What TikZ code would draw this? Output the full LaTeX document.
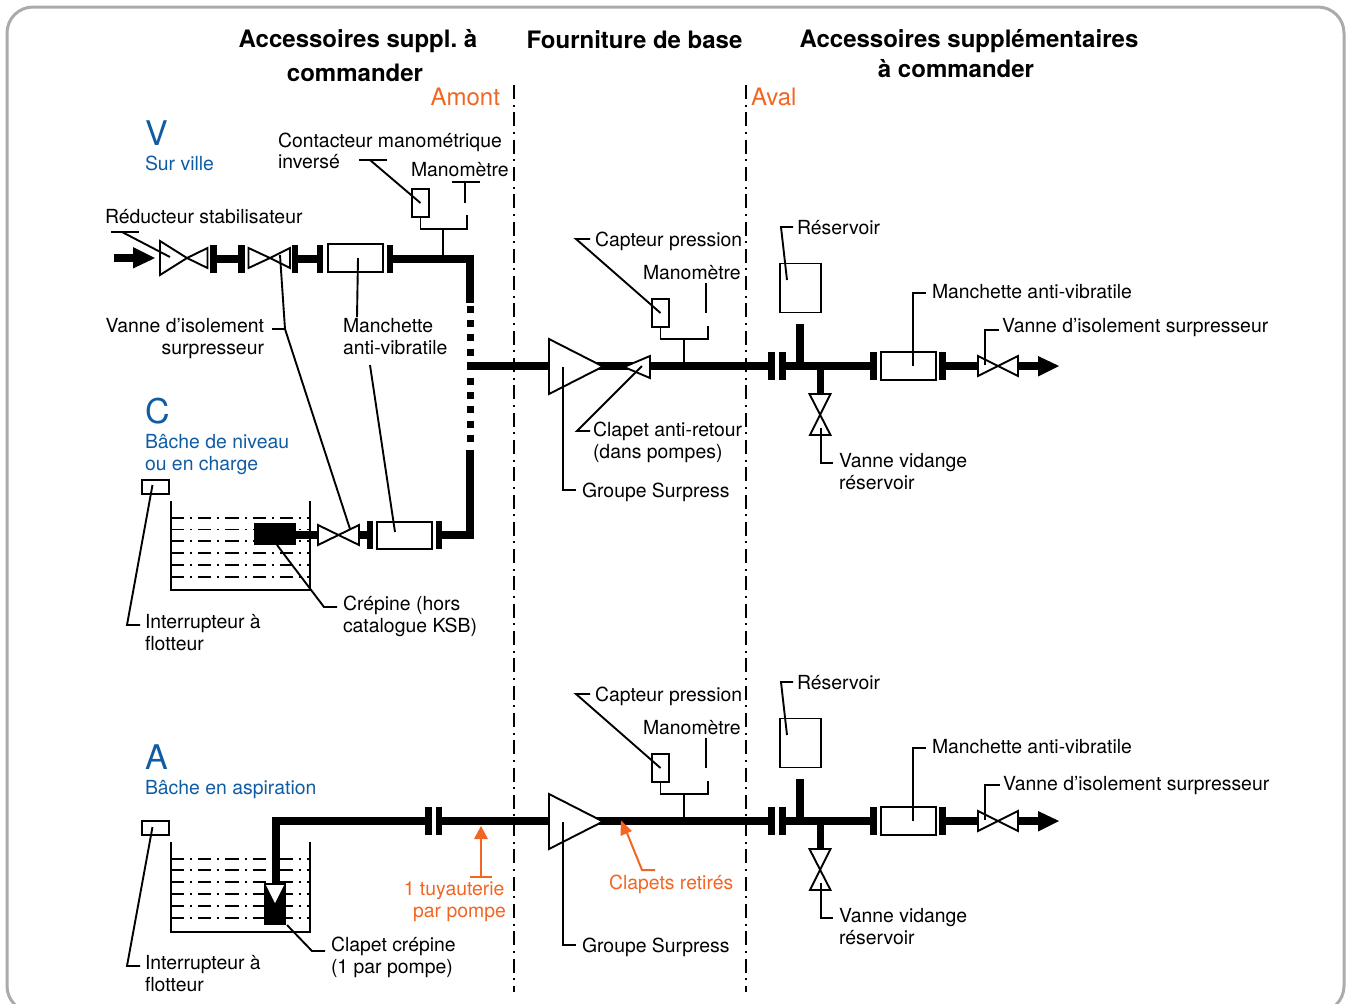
\documentclass[tikz,border=0pt]{standalone}
\usepackage{fontspec}
\setmainfont{TeX Gyre Heros}
\frenchspacing
\definecolor{kblue}{HTML}{0F5CA3}
\definecolor{korange}{HTML}{F26522}
\definecolor{kframe}{HTML}{A9ABAE}
\tikzset{
  every node/.style={inner sep=0pt,outer sep=0pt},
  pipe/.style={line width=3.7pt},
  leader/.style={line width=0.95pt,line join=miter},
  thinpipe/.style={line width=0.95pt},
  shape line/.style={line width=0.95pt,draw=black,fill=white,line join=miter},
  flangebox/.style={fill=black,minimum width=3.4pt,minimum height=13.6pt},
  sleeve/.style={shape line,draw,minimum width=27.5pt,minimum height=13.6pt},
  smallbox/.style={shape line,draw},
  label/.style={anchor=base west,yshift=-0.5pt,font=\fontsize{9.7pt}{11pt}\selectfont},
  rlabel/.style={anchor=base east,yshift=-0.5pt,font=\fontsize{9.7pt}{11pt}\selectfont},
  title/.style={anchor=base,font=\fontsize{12pt}{14pt}\selectfont\bfseries},
  bigletter/.style={anchor=base west,text=kblue,font=\fontsize{17pt}{20pt}\selectfont},
  bluetext/.style={label,text=kblue},
  orangetext/.style={rlabel,text=korange},
  sidetag/.style={anchor=base west,text=korange,font=\fontsize{12pt}{14pt}\selectfont},
  limit/.style={line width=0.7pt,dash pattern=on 7pt off 2.825pt on 1pt off 2.825pt},
  water/.style={line width=0.7pt,dash pattern=on 6.6pt off 3pt on 1pt off 3pt},
}
% horizontal bow-tie valve: name, x left, x centre, x right, y, half height left, half height right
\newcommand{\valvetie}[7]{%
  \draw[shape line] ({#2},{#5-#6}) -- ({#3},#5) -- ({#4},{#5-#7}) -- ({#4},{#5+#7}) -- ({#3},#5) -- ({#2},{#5+#6}) -- cycle;
  \coordinate (#1) at (#3,#5);}
% everything right of the pump, drawn once per circuit
\newcommand{\delivery}[1]{%
  \coordinate (#1pin) at (549,366);
  \coordinate (#1tee) at (684,366);
  \coordinate (#1tank) at (800,366);
  \coordinate (#1drain) at (820.5,366);
  \node[flangebox] (#1fa) at (771.5,366) {};
  \node[flangebox] (#1fb) at (782.5,366) {};
  \node[flangebox] (#1fc) at (873.5,366) {};
  \node[sleeve] (#1sl) at (908.5,366) {};
  \node[flangebox] (#1fd) at (942.5,366) {};
  \coordinate (#1vl) at (978,366);
  \coordinate (#1vr) at (1018,366);
  \draw[pipe] (#1pin) -- (#1fa.center);
  \draw[pipe] (#1fb.center) -- (#1fc.center);
  \draw[pipe] (#1fd.center) -- (#1vl);
  \draw[pipe] (#1tank) -- (800,324);
  \draw[pipe] (#1drain) -- (820.5,394);
  \draw[pipe] (#1vr) -- (1040,366);
  \fill (1038,356) -- (1059,366) -- (1038,376.5) -- cycle;
  \valvetie{#1vv}{978}{998}{1018}{366}{10}{10}
  \draw[shape line] (809.5,394) -- (830.5,394) -- (810,435) -- (830.5,435) -- cycle;
  \draw[shape line] (549,339) -- (603,366.5) -- (549,394) -- cycle;
  \node[smallbox,minimum width=8.5pt,minimum height=14pt] (#1cap) at (660.5,313) {};
  \node[smallbox,minimum width=20.5pt,minimum height=24.5pt] (#1res) at (800.5,288) {};
  \coordinate (#1resin) at (787,280);
  \draw[thinpipe] (#1cap.south) -- (660.5,339) -- (708,339) -- (708,326);
  \draw[thinpipe] (#1tee) -- (684,339);
  \draw[leader,line width=1.1pt] (706,283) -- (706,313);
  \node[label] (#1lcap) at (595,245.5) {Capteur pression};
  \node[label] (#1lman) at (643,278.5) {Manomètre};
  \node[label] (#1lgrp) at (582,496.5) {Groupe Surpress};
  \node[label] (#1lres) at (797,233.5) {Réservoir};
  \node[label] (#1lsl) at (932,297.5) {Manchette anti-vibratile};
  \node[label] (#1lvd) at (839,466.5) {Vanne vidange};
  \node[label] (#1lvd2) at (839,488.5) {réservoir};
  \draw[leader] (#1lcap.base west) ++(-5,-7.5) -- (576,239) -- (#1cap.center);
  \draw[leader] (#1lres.base west) ++(-4,-7.5) -- (781,227) -- (#1resin);
  \draw[leader] (563,367) -- (563,490) -- (576,490);
  \draw[leader] (913,365.5) -- (913,293) -- (926,293);
  \draw[leader] (821,428) -- (821,463) -- (833,463);
}
\begin{document}
\begin{tikzpicture}[x=0.5pt,y=-0.5pt]
\useasboundingbox (0,0) rectangle (1346,1003);
\begin{scope}
  \clip (0,0) rectangle (1346,1003);
  \draw[kframe,line width=1.5pt,rounded corners=13pt] (7,7) rectangle (1344,1012);
\end{scope}
% titles
\node[title] (t1a) at (358,47) {Accessoires suppl. à};
\node[title] (t1b) at (355,81) {commander};
\node[title] (t2) at (634.5,48) {Fourniture de base};
\node[title] (t3a) at (969,47) {Accessoires supplémentaires};
\node[title] (t3b) at (956,77) {à commander};
\node[sidetag,anchor=base east] (amont) at (500,105) {Amont};
\node[sidetag] (aval) at (751,105) {Aval};
% limits of supply
\coordinate (la) at (514,85); \coordinate (lb) at (514,992);
\coordinate (lc) at (746,85); \coordinate (ld) at (746,992);
\draw[limit] (la) -- (lb);
\draw[limit] (lc) -- (ld);
% ---- circuit V
\node[bigletter] (V) at (145,145) {V};
\node[bluetext] (Vt) at (145,169.5) {Sur ville};
\coordinate (p0) at (114,258);
\node[flangebox] (f1) at (213.5,259) {};
\node[flangebox] (f2) at (241.5,259) {};
\node[flangebox] (f3) at (295,259) {};
\node[flangebox] (f4) at (320,259) {};
\node[sleeve] (m1) at (355.5,258) {};
\node[flangebox] (f5) at (390,259) {};
\coordinate (el1) at (470,259);
\coordinate (el2) at (470,303);
\coordinate (dots) at (470,305.5);
\coordinate (dote) at (470,443);
\coordinate (el3) at (470,450);
\coordinate (el4) at (470,535);
\coordinate (jn) at (467,366);
\draw[pipe] (p0) -- (135,258);
\fill (133,247) -- (155,258) -- (133,268.5) -- cycle;
\draw[pipe] (f1.center) -- (f2.center);
\draw[pipe] (f3.center) -- (f4.center);
\draw[pipe] (f5.center) -- (el1) -- (el2);
\draw[line width=3.5pt,dash pattern=on 3.5pt off 3.7pt] (dots) -- (dote);
\valvetie{v1}{160}{187}{207.5}{258}{17}{10}
\valvetie{v2}{248.5}{270}{290}{258}{10}{10}
% sensors
\node[smallbox,minimum width=8.5pt,minimum height=14pt] (ks) at (420.5,203) {};
\draw[thinpipe] (ks.south) -- (420.5,229) -- (467,229) -- (467,215);
\draw[thinpipe] (443,259) -- (443,229);
\draw[leader] (452,182) -- (480,182);
\draw[leader] (465,182) -- (465,203);
\node[label] (l1) at (278,146) {Contacteur manométrique};
\node[label] (l2) at (278,167) {inversé};
\node[label] (l3) at (411,175.5) {Manomètre};
\node[label] (l4) at (105,222) {Réducteur stabilisateur};
\node[rlabel] (l5) at (264,331.5) {Vanne d’isolement};
\node[rlabel] (l6) at (264,353.5) {surpresseur};
\node[label] (l7) at (343,331.5) {Manchette};
\node[label] (l8) at (343,353.5) {anti-vibratile};
\draw[leader] (359,160) -- (387,160);
\draw[leader] (370,160) -- (ks.center);
\draw[leader] (111,232) -- (139,232);
\draw[leader] (122,232) -- (170,257);
% ---- circuit C
\node[bigletter] (C) at (145,423) {C};
\node[bluetext] (Ct) at (145,447.5) {Bâche de niveau};
\node[bluetext] (Ct2) at (145,469.5) {ou en charge};
\node[smallbox,minimum width=13.5pt,minimum height=7pt] (fl1) at (155.5,487) {};
\coordinate (tc1) at (171,501); \coordinate (tc2) at (171,590);
\coordinate (tc3) at (310,590); \coordinate (tc4) at (310,501);
\foreach \wy in {518,529.5,541,553,565,577} \draw[water] (171,\wy) -- (310,\wy);
\draw[leader] (tc1) -- (tc2) -- (tc3) -- (tc4);
\node[fill=black,minimum width=21pt,minimum height=11pt] (cr) at (275,534) {};
\coordinate (v3l) at (318,535);
\coordinate (v3r) at (359,535);
\coordinate (crout) at (296,535);
\node[flangebox] (f6) at (370,535) {};
\node[sleeve] (m2) at (404.5,535.5) {};
\node[flangebox] (f7) at (439,535) {};
\draw[pipe] (crout) -- (v3l);
\draw[pipe] (v3r) -- (f6.center);
\draw[pipe] (f7.center) -- (el4) -- (el3);
\valvetie{v3}{318}{338.5}{359}{535}{10}{10}
\node[label] (l9) at (145,627.5) {Interrupteur à};
\node[label] (l10) at (145,649.5) {flotteur};
\node[label] (l11) at (343,609.5) {Crépine (hors};
\node[label] (l12) at (343,631.5) {catalogue KSB)};
\draw[leader] (fl1.center) ++(-3,-2) -- (127,625) -- (140,625);
\draw[leader] (277,545) -- (324,607) -- (337,607);
\draw[leader] (280,255) -- (285,329) -- (350,529);
\draw[leader] (272,329) -- (285,329);
\draw[leader] (358,258) -- (357,317);
\draw[leader] (370,365) -- (395,532);
% ---- delivery of circuit V / C
\draw[pipe] (jn) -- (549,366);
\delivery{a}
\draw[shape line] (624,367) -- (650,356) -- (650,378) -- cycle;
\node[label] (ac1) at (593,435.5) {Clapet anti-retour};
\node[label] (ac2) at (593,457.5) {(dans pompes)};
\draw[leader] (590,431) -- (577,431) -- (642,366);
\node[label] (av1) at (1002,331.5) {Vanne d’isolement surpresseur};
\draw[leader] (985,365) -- (985,330) -- (999,330);
% ---- circuit A
\node[bigletter] (A) at (145,769) {A};
\node[bluetext] (At) at (145,793.5) {Bâche en aspiration};
\begin{scope}[shift={(0,455)}]
\delivery{b}
\end{scope}
\node[flangebox] (f8) at (428.5,821) {};
\node[flangebox] (f9) at (439,821) {};
\coordinate (e5) at (276,821);
\coordinate (e6) at (276,885);
\draw[pipe] (f8.center) -- (e5) -- (e6);
\draw[pipe] (f9.center) -- (549,821);
\node[smallbox,minimum width=13.5pt,minimum height=7pt] (fl2) at (155.5,828) {};
\coordinate (td1) at (171,842); \coordinate (td2) at (171,932);
\coordinate (td3) at (310,932); \coordinate (td4) at (310,842);
\foreach \wy in {859,870,882,894,906,918} \draw[water] (171,\wy) -- (310,\wy);
\draw[leader] (td1) -- (td2) -- (td3) -- (td4);
\node[fill=black,minimum width=11pt,minimum height=21pt] (cc) at (275,904) {};
\fill[white] (266,885) -- (284,885) -- (275,903) -- cycle;
\node[label] (l13) at (145,968.5) {Interrupteur à};
\node[label] (l14) at (145,990.5) {flotteur};
\node[label] (l15) at (331,950.5) {Clapet crépine};
\node[label] (l16) at (331,972.5) {(1 par pompe)};
\draw[leader] (fl2.center) ++(-3,-1) -- (127,966) -- (140,966);
\draw[leader] (287,925) -- (312,951) -- (325,951);
\node[label] (bv1) at (1003,789.5) {Vanne d’isolement surpresseur};
\draw[leader] (985,820) -- (985,785) -- (1000,785);
% orange notes
\node[orangetext] (o1) at (504.5,894.5) {1 tuyauterie};
\node[orangetext] (o2) at (506,916.5) {par pompe};
\node[label,text=korange] (o3) at (609,888.5) {Clapets retirés};
\draw[korange,line width=1pt] (470,877) -- (492,877);
\draw[korange,line width=1pt] (481,877) -- (481,838);
\fill[korange] (481,826) -- (488,839) -- (474,839) -- cycle;
\draw[korange,line width=1pt] (655,870) -- (642,870) -- (627,833);
\fill[korange] (621,820.5) -- (632,831) -- (620.5,836) -- cycle;
\end{tikzpicture}
\end{document}
